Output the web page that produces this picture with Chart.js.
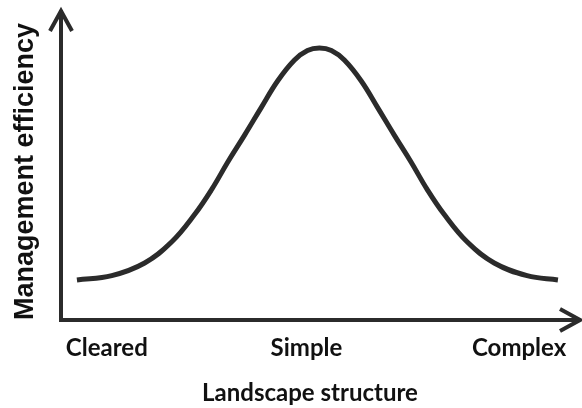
<!DOCTYPE html>
<html>
<head>
<meta charset="utf-8">
<script src="https://cdn.jsdelivr.net/npm/chart.js@4"></script>
<style>
  html, body { margin: 0; padding: 0; background: #fff; }
  #wrap { width: 582px; height: 408px; }
</style>
</head>
<body>
<div id="wrap"><canvas id="chart"></canvas></div>
<script>
// structure positions along the x axis and the efficiency
var structure = [3.2, 10.2, 16.8, 22.2, 26.9, 30.3, 33.5, 36.9, 40.3, 43.5, 46.9, 49.5, 51.9,
                 54.3, 56.9, 60.3, 63.5, 66.9, 70.3, 73.5, 76.9, 81.6, 87.0, 93.6, 99.8];
var efficiency = [13.0, 14.4, 18.5, 25.3, 34.4, 42.5, 51.3, 60.1, 69.2, 77.6, 84.4, 87.5, 88.3,
                  87.5, 84.4, 77.6, 69.2, 60.1, 51.3, 42.5, 34.4, 25.3, 18.5, 14.4, 13.0];

var tickValues = [9.2, 49.3, 92.0];
var tickLabels = ["Cleared", "Simple", "Complex"];

var xTitle = "Landscape structure";
var yTitle = "Management efficiency";

var ink = "#2b2b2b";

var points = structure.map(function (x, i) {
    return { x: x, y: efficiency[i] };
});

// arrow heads at the ends of both axes
var arrows = {
    id: "arrows",
    afterDraw: function (chart) {
        var ctx = chart.ctx,
            area = chart.chartArea,
            x0 = chart.scales.y.right,
            y0 = chart.scales.x.top,
            end = chart.width - 2;

        ctx.save();
        ctx.strokeStyle = ink;
        ctx.lineWidth = 4;
        ctx.lineJoin = "miter";
        ctx.lineCap = "butt";

        ctx.beginPath();
        ctx.moveTo(area.right, y0);
        ctx.lineTo(end, y0);
        ctx.stroke();

        ctx.beginPath();
        ctx.moveTo(end - 20, y0 - 11);
        ctx.lineTo(end, y0);
        ctx.lineTo(end - 20, y0 + 11);
        ctx.stroke();

        ctx.beginPath();
        ctx.moveTo(x0 - 11, area.top + 19);
        ctx.lineTo(x0, area.top - 1);
        ctx.lineTo(x0 + 11, area.top + 19);
        ctx.stroke();
        ctx.restore();
    }
};

var ctx = document.getElementById("chart").getContext("2d");
new Chart(ctx, {
    type: "line",
    data: {
        datasets: [{
            data: points,
            borderColor: ink,
            borderWidth: 5,
            pointRadius: 0,
            fill: false,
            tension: 0.4,
            clip: false
        }]
    },
    options: {
        responsive: true,
        maintainAspectRatio: false,
        animation: false,
        layout: { padding: { top: 12, right: 22, left: 0, bottom: 0 } },
        plugins: {
            legend: { display: false },
            tooltip: { enabled: false }
        },
        scales: {
            x: {
                type: "linear",
                min: 0,
                max: 100,
                grid: { display: false, drawTicks: false },
                border: { display: true, color: ink, width: 4 },
                afterBuildTicks: function (scale) {
                    scale.ticks = tickValues.map(function (v) { return { value: v }; });
                },
                afterFit: function (scale) { scale.height = 88; },
                ticks: {
                    autoSkip: false,
                    maxRotation: 0,
                    padding: 14,
                    color: "#111",
                    font: { family: "Lato", weight: "bold", size: 24 },
                    callback: function (value, index) { return tickLabels[index]; }
                },
                title: {
                    display: true,
                    text: xTitle,
                    color: "#111",
                    padding: { top: 0, bottom: 0 },
                    font: { family: "Lato", weight: "bold", size: 24 }
                }
            },
            y: {
                min: 0,
                max: 100,
                grid: { display: false, drawTicks: false },
                border: { display: true, color: ink, width: 4 },
                ticks: { display: false },
                afterFit: function (scale) { scale.width = 61; },
                title: {
                    display: true,
                    text: yTitle,
                    align: "start",
                    color: "#111",
                    padding: { top: 9, bottom: 0 },
                    font: { family: "Liberation Sans", weight: "bold", size: 27 }
                }
            }
        }
    },
    plugins: [arrows]
});
</script>
</body>
</html>
